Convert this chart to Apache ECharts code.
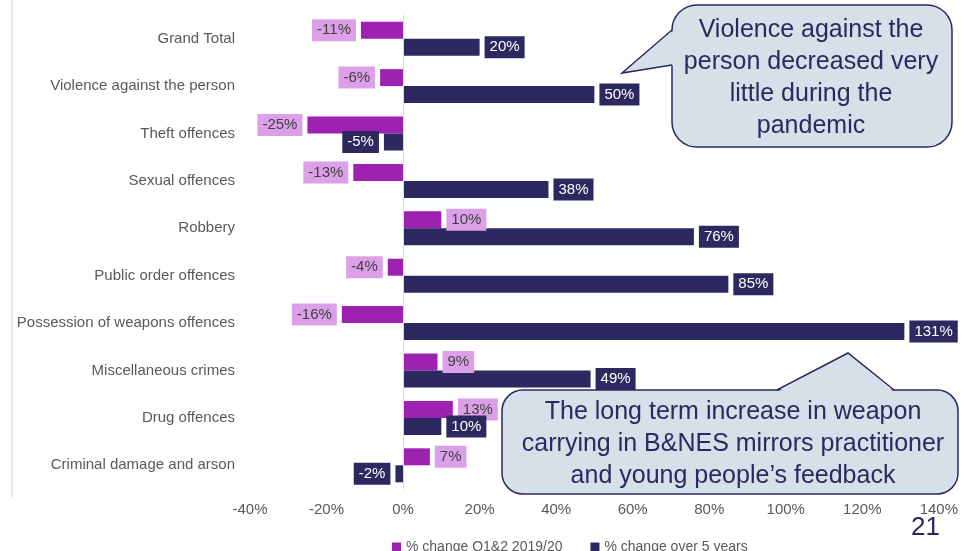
<!DOCTYPE html>
<html>
<head>
<meta charset="utf-8">
<style>
  html, body { margin: 0; padding: 0; background: #fff; }
  #chart { width: 961px; height: 551px; }
</style>
<script src="https://cdn.jsdelivr.net/npm/echarts@6/dist/echarts.min.js"></script>
</head>
<body>
<div id="chart"></div>
<script>
// Offence categories, top to bottom
const categories = [
  'Grand Total',
  'Violence against the person',
  'Theft offences',
  'Sexual offences',
  'Robbery',
  'Public order offences',
  'Possession of weapons offences',
  'Miscellaneous crimes',
  'Drug offences',
  'Criminal damage and arson'
];

// % change, first half of 2019/20
const changeQ12 = [-11, -6, -25, -13, 10, -4, -16, 9, 13, 7];
// % change over 5 years
const change5yr = [20, 50, -5, 38, 76, 85, 131, 49, 10, -2];

const seriesNames = ['% change Q1&2 2019/20', '% change over 5 years'];

const NAVY = '#2C2860';
const MAGENTA = '#9E22B2';
const LILAC = '#DCA0E8';
const BUBBLE = '#D7E0E8';
const FONT = '"Liberation Sans", Arial, Helvetica, sans-serif';

// put each value label on the outer end of its bar
function withSideLabels(values) {
  return values.map(v => ({
    value: v,
    label: { position: v < 0 ? 'left' : 'right' }
  }));
}

const barLabel = (bg, fg) => ({
  show: true,
  formatter: '{c}%',
  distance: 5,
  fontSize: 15,
  fontFamily: FONT,
  color: fg,
  backgroundColor: bg,
  padding: [4, 5, 3, 5]
});

// speech bubble: rounded box + triangular pointer whose base hides the box border
function bubble(box, pointer, text, textPos) {
  return {
    type: 'group',
    z: 100,
    children: [
      {
        type: 'rect',
        shape: { x: box[0], y: box[1], width: box[2], height: box[3], r: box[4] },
        style: { fill: BUBBLE, stroke: NAVY, lineWidth: 1.5 },
        z: 100
      },
      {
        type: 'polygon',
        shape: { points: pointer.fill },
        style: { fill: BUBBLE },
        z: 101
      },
      {
        type: 'polyline',
        shape: { points: pointer.edge },
        style: { stroke: NAVY, lineWidth: 1.5, fill: null },
        z: 102
      },
      {
        type: 'text',
        z: 103,
        style: {
          x: textPos[0], y: textPos[1],
          text: text,
          fontSize: 25,
          fontFamily: FONT,
          fill: NAVY,
          align: 'center',
          verticalAlign: 'middle',
          lineHeight: 32
        }
      }
    ]
  };
}

const chart = echarts.init(document.getElementById('chart'), null, { renderer: 'canvas' });

chart.setOption({
  animation: false,
  backgroundColor: '#fff',
  grid: { left: 250, right: 18, top: 15, bottom: 62, containLabel: false },
  legend: {
    data: seriesNames,
    left: 387,
    top: 535,
    icon: 'rect',
    itemWidth: 9,
    itemHeight: 9,
    itemGap: 28,
    textStyle: { fontSize: 14, color: '#595959', fontFamily: FONT }
  },
  xAxis: {
    type: 'value',
    min: -40,
    max: 140,
    interval: 20,
    axisLine: { show: false },
    axisTick: { show: false },
    splitLine: { show: false },
    axisLabel: {
      formatter: '{value}%',
      fontSize: 15,
      color: '#595959',
      fontFamily: FONT,
      margin: 13
    }
  },
  yAxis: {
    type: 'category',
    data: categories,
    inverse: true,
    axisLine: { show: false, onZero: false },
    axisTick: { show: false },
    axisLabel: { fontSize: 15, color: '#595959', fontFamily: FONT, margin: 15 }
  },
  series: [
    {
      name: seriesNames[0],
      type: 'bar',
      data: withSideLabels(changeQ12),
      barWidth: 17,
      barGap: '0%',
      itemStyle: { color: MAGENTA },
      label: barLabel(LILAC, '#404040'),
      markLine: {
        silent: true,
        symbol: ['none', 'none'],
        label: { show: false },
        lineStyle: { color: '#D9D9D9', width: 1, type: 'solid' },
        data: [{ xAxis: 0 }]
      }
    },
    {
      name: seriesNames[1],
      type: 'bar',
      data: withSideLabels(change5yr),
      barWidth: 17,
      barGap: '0%',
      itemStyle: { color: NAVY },
      label: barLabel(NAVY, '#FFFFFF')
    }
  ],
  graphic: [
    // thin slide border on the left
    {
      type: 'line',
      shape: { x1: 12, y1: 0, x2: 12, y2: 497 },
      style: { stroke: '#D0D0D0', lineWidth: 1 },
      z: 1
    },
    bubble(
      [672, 5, 280, 142, 25],
      {
        fill: [[674, 30], [622, 73], [674, 65]],
        edge: [[672, 30], [622, 73], [672, 65]]
      },
      'Violence against the\nperson decreased very\nlittle during the\npandemic',
      [811, 78]
    ),
    bubble(
      [502, 390, 456, 104, 21],
      {
        fill: [[777, 392], [848, 353], [894, 392]],
        edge: [[777, 390], [848, 353], [894, 390]]
      },
      'The long term increase in weapon\ncarrying in B&NES mirrors practitioner\nand young people\u2019s feedback',
      [733, 444]
    ),
    // page number
    {
      type: 'text',
      z: 100,
      style: {
        x: 940, y: 528,
        text: '21',
        fontSize: 26,
        fontFamily: FONT,
        fill: NAVY,
        align: 'right',
        verticalAlign: 'middle'
      }
    }
  ]
});
</script>
</body>
</html>
